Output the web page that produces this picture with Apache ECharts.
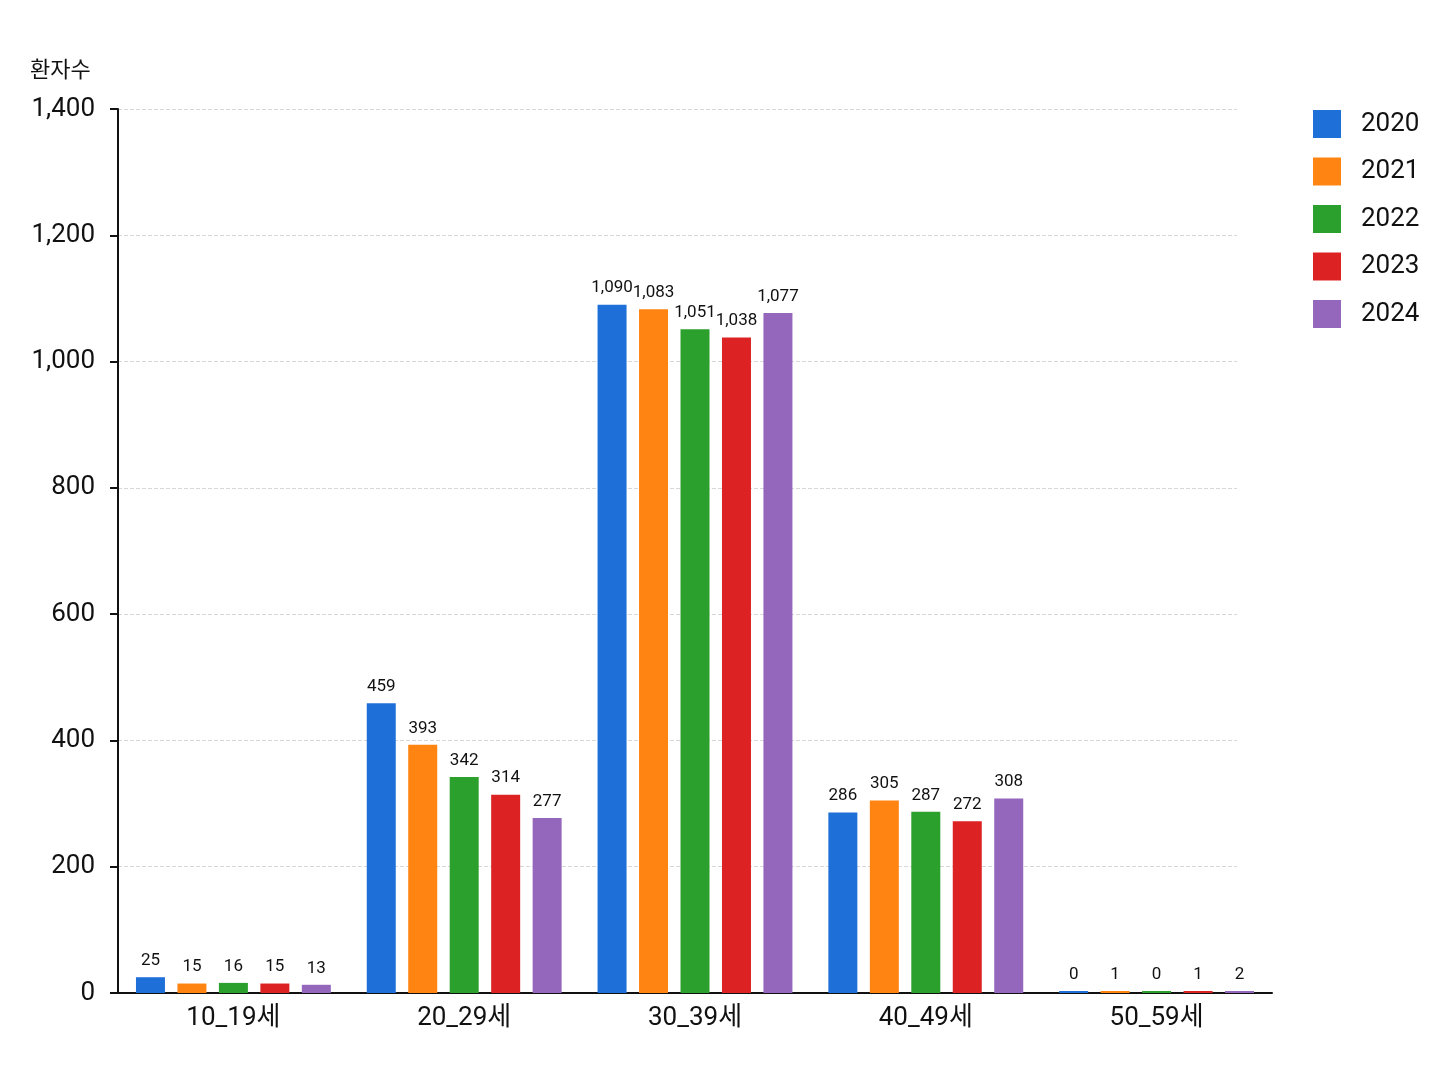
<!DOCTYPE html>
<html><head><meta charset="utf-8">
<script src="https://cdn.jsdelivr.net/npm/echarts@6/dist/echarts.min.js"></script>
<style>html,body{margin:0;padding:0;background:#fff}#c{width:1448px;height:1086px}</style>
</head><body><div id="c"></div>
<script>
const categories = ['10_19세','20_29세','30_39세','40_49세','50_59세'];
const years = ['2020','2021','2022','2023','2024'];
const v2020 = [25, 459, 1090, 286, 0];
const v2021 = [15, 393, 1083, 305, 1];
const v2022 = [16, 342, 1051, 287, 0];
const v2023 = [15, 314, 1038, 272, 1];
const v2024 = [13, 277, 1077, 308, 2];
const yTicks = [0, 200, 400, 600, 800, 1000, 1200, 1400];
const colors = ['#1f6fd8', '#ff8412', '#2ca02c', '#dc2222', '#9467bd'];
const seriesVals = [v2020, v2021, v2022, v2023, v2024];
const FONT = 'Roboto, "Noto Sans CJK KR", sans-serif';
const fmt = v => Number(v).toLocaleString('en-US');
const yMin = yTicks[0], yMax = yTicks[yTicks.length - 1], yStep = yTicks[1] - yTicks[0];

const chart = echarts.init(document.getElementById('c'));
chart.setOption({
  backgroundColor: '#fff',
  color: colors,
  textStyle: { fontFamily: FONT },
  grid: [
    { left: 118, right: 211, top: 109, bottom: 93, containLabel: false },
    { left: 118, right: 176, top: 109, bottom: 93, containLabel: false }
  ],
  legend: {
    orient: 'vertical', left: 1313, top: 110, padding: 0,
    itemWidth: 28, itemHeight: 28, itemGap: 19.5,
    icon: 'rect',
    textStyle: { fontSize: 26, color: '#111', fontFamily: FONT, padding: [0, 0, 0, 15] },
    data: years
  },
  xAxis: [
    { type: 'value', gridIndex: 0, show: false, min: 0, max: 1 },
    {
      type: 'category', gridIndex: 1, data: categories,
      axisLine: { lineStyle: { color: '#111', width: 2 } },
      axisTick: { show: false },
      axisLabel: { fontSize: 26, color: '#111', margin: 12, fontFamily: FONT }
    }
  ],
  yAxis: [
    {
      type: 'value', gridIndex: 0, min: yMin, max: yMax, interval: yStep,
      axisLine: { show: false }, axisTick: { show: false }, axisLabel: { show: false },
      splitLine: { show: true, lineStyle: { color: '#d8d8d8', type: 'dashed', width: 1 } }
    },
    {
      type: 'value', gridIndex: 1, min: yMin, max: yMax, interval: yStep,
      name: '환자수', nameLocation: 'end', nameGap: 26,
      nameTextStyle: { fontSize: 22, color: '#111', align: 'left', padding: [0, 0, 0, -88], fontFamily: FONT },
      axisLine: { show: true, lineStyle: { color: '#111', width: 2 } },
      axisTick: { show: true, length: 8, lineStyle: { color: '#111', width: 2 } },
      axisLabel: { fontSize: 26, color: '#111', margin: 23, formatter: fmt, fontFamily: FONT },
      splitLine: { show: false }
    }
  ],
  series: years.map((y, i) => ({
    name: y, type: 'bar', data: seriesVals[i],
    xAxisIndex: 1, yAxisIndex: 1,
    barWidth: 29, barGap: '43%', barMinHeight: 2,
    itemStyle: { color: colors[i] },
    label: { show: true, position: 'top', distance: 8, fontSize: 17, color: '#111', formatter: p => fmt(p.value), fontFamily: FONT }
  }))
});
</script></body></html>
